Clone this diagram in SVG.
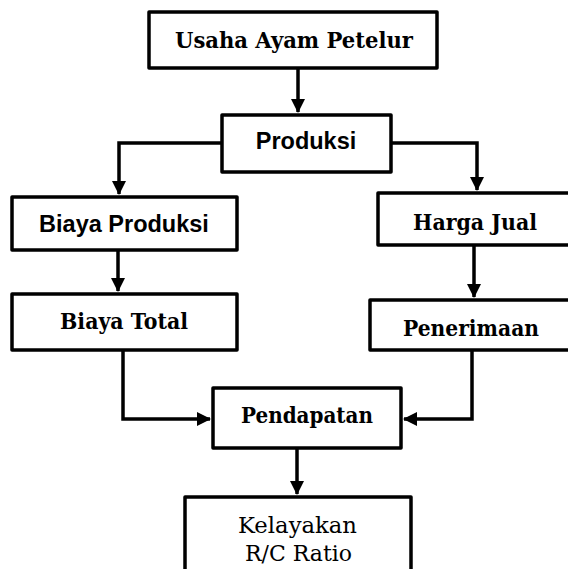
<svg xmlns="http://www.w3.org/2000/svg" width="568" height="569" viewBox="0 0 568 569">
<defs>
<style>
.box{fill:#fff;stroke:#000;stroke-width:3.5;stroke-linejoin:round}
.con{fill:none;stroke:#000;stroke-width:3.5}
.serifb{font-family:"DejaVu Serif","Liberation Serif",serif;font-weight:bold;font-size:22px;fill:#000;text-anchor:middle}
.serif{font-family:"DejaVu Serif","Liberation Serif",serif;font-size:22px;fill:#000;text-anchor:middle}
.sans{font-family:"Liberation Sans",Arial,sans-serif;font-weight:bold;font-size:23.5px;fill:#000;text-anchor:middle}
</style>
<marker id="arr" markerUnits="userSpaceOnUse" markerWidth="16" markerHeight="16" refX="13" refY="7" orient="auto">
<path d="M0,0 L14,7 L0,14 z" fill="#000"/>
</marker>
</defs>
<rect width="568" height="569" fill="#fff"/>
<g id="connectors">
<path class="con" d="M298,68 V112" marker-end="url(#arr)"/>
<path class="con" d="M222,143 H119 V194" marker-end="url(#arr)"/>
<path class="con" d="M391,143 H477 V190" marker-end="url(#arr)"/>
<path class="con" d="M118,250 V291" marker-end="url(#arr)"/>
<path class="con" d="M474,245 V297" marker-end="url(#arr)"/>
<path class="con" d="M123,350 V419 H210" marker-end="url(#arr)"/>
<path class="con" d="M472,350 V419 H404" marker-end="url(#arr)"/>
<path class="con" d="M297,448 V494" marker-end="url(#arr)"/>
</g>
<g id="usaha">
<rect class="box" x="149" y="12" width="288" height="56"/>
<text class="serifb" x="294" y="48" textLength="238" lengthAdjust="spacingAndGlyphs">Usaha Ayam Petelur</text>
</g>
<g id="produksi">
<rect class="box" x="222" y="115" width="169" height="57"/>
<text class="sans" x="306" y="149">Produksi</text>
</g>
<g id="biaya-produksi">
<rect class="box" x="12" y="197" width="225" height="53"/>
<text class="sans" x="124" y="232">Biaya Produksi</text>
</g>
<g id="harga-jual">
<rect class="box" x="378" y="193" width="200" height="52"/>
<text class="serifb" x="475" y="230" textLength="124" lengthAdjust="spacingAndGlyphs">Harga Jual</text>
</g>
<g id="biaya-total">
<rect class="box" x="12" y="294" width="225" height="56"/>
<text class="serifb" x="124" y="329" textLength="128" lengthAdjust="spacingAndGlyphs">Biaya Total</text>
</g>
<g id="penerimaan">
<rect class="box" x="370" y="300" width="210" height="50"/>
<text class="serifb" x="471" y="336" textLength="136" lengthAdjust="spacingAndGlyphs">Penerimaan</text>
</g>
<g id="pendapatan">
<rect class="box" x="213" y="388" width="188" height="60"/>
<text class="serifb" x="307" y="423" textLength="132" lengthAdjust="spacingAndGlyphs">Pendapatan</text>
</g>
<g id="kelayakan">
<rect class="box" x="185" y="497" width="226" height="90"/>
<text class="serif" x="297.5" y="533" textLength="119" lengthAdjust="spacingAndGlyphs">Kelayakan</text>
<text class="serif" x="298.5" y="561" textLength="107" lengthAdjust="spacingAndGlyphs">R/C Ratio</text>
</g>
</svg>
